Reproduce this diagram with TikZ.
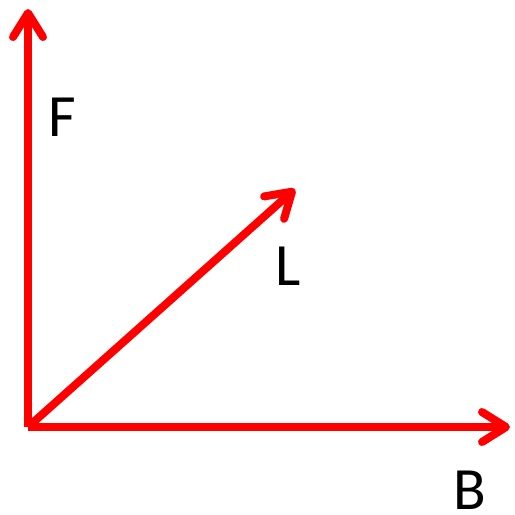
\documentclass[tikz,border=0pt]{standalone}
\usepackage{fontspec}
\setmainfont{Carlito}
\usetikzlibrary{arrows.meta}
\begin{document}
\begin{tikzpicture}[x=1pt,y=-1pt,
  vec/.style={draw=red,line width=8pt,-{Straight Barb[length=24pt,width=30pt,line cap=round,line join=round]}},
  lbl/.style={inner sep=0pt,font=\fontsize{60}{72}\selectfont}]
\useasboundingbox (0,0) rectangle (515,515);
\coordinate (O) at (28,427);
\coordinate (Ftip) at (28,9);
\coordinate (Btip) at (510,427);
\coordinate (Ltip) at (295,189);
\draw[vec] (O) -- (Ftip);
\draw[vec] (O) -- (Btip);
\draw[vec] (O) -- (Ltip);
\node[lbl] (F) at (62,117) {F};
\node[lbl] (L) at (288,266) {L};
\node[lbl] (B) at (470,490) {B};
\end{tikzpicture}
\end{document}
